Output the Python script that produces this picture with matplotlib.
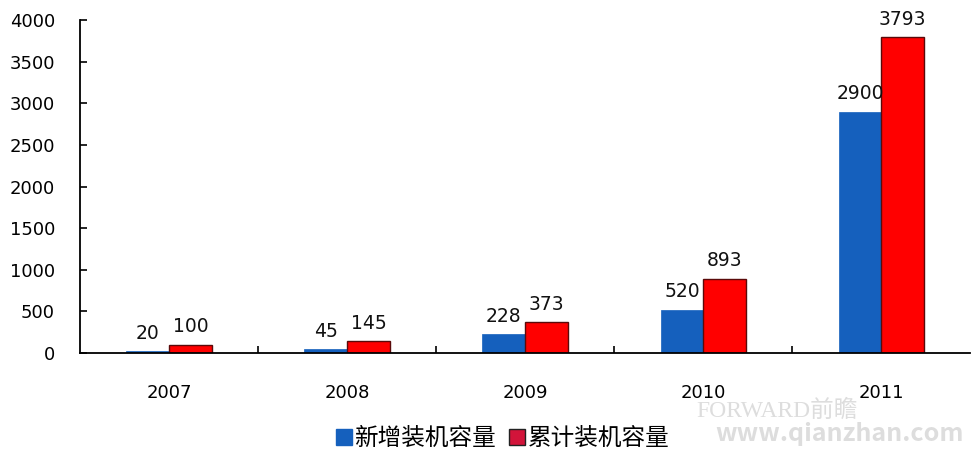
import matplotlib.pyplot as plt
import numpy as np
from matplotlib.lines import Line2D

plt.rcParams['font.family'] = ['Noto Sans CJK SC', 'DejaVu Sans']

years = ['2007', '2008', '2009', '2010', '2011']
new_cap = [20, 45, 228, 520, 2900]          # 新增装机容量
total_cap = [100, 145, 373, 893, 3793]      # 累计装机容量
yticks = [0, 500, 1000, 1500, 2000, 2500, 3000, 3500, 4000]

fig = plt.figure(figsize=(9.71, 4.59), dpi=100)
ax = fig.add_axes([0.0824, 0.231, 0.917, 0.725])

x = np.arange(len(years))
w = 0.24
b1 = ax.bar(x - w / 2, new_cap, w, color='#1560bd', edgecolor='#1560bd', linewidth=0.5,
            label='新增装机容量')
b2 = ax.bar(x + w / 2, total_cap, w, color='#ff0000', edgecolor='#5a0a0a', linewidth=1.0,
            label='累计装机容量')

for bars in (b1, b2):
    for r in bars:
        ax.annotate(f'{int(r.get_height())}', (r.get_x() + r.get_width() / 2, r.get_height()),
                    xytext=(0, 6), textcoords='offset points', ha='center', va='bottom',
                    fontsize=13.5, family='DejaVu Sans', color='#111111')

ax.set_xlim(-0.5, len(years) - 0.5)
ax.set_ylim(0, 4000)
ax.set_yticks(yticks)
ax.set_xticks(x)
ax.set_xticklabels(years)
ax.set_xticks(np.arange(0.5, len(years) - 0.5, 1.0), minor=True)
for s in ['top', 'right']:
    ax.spines[s].set_visible(False)
ax.spines['left'].set_linewidth(1.3)
ax.spines['bottom'].set_linewidth(1.3)
ax.tick_params(axis='y', direction='in', length=5, width=1.2, pad=18, labelsize=13)
ax.tick_params(axis='x', which='major', length=0, pad=22, labelsize=13)
ax.tick_params(axis='x', which='minor', direction='in', length=5, width=1.2)
for lab in ax.get_xticklabels() + ax.get_yticklabels():
    lab.set_family('DejaVu Sans')

# 水印
fig.text(0.80, 0.105, 'FORWARD前瞻', fontsize=17, color='#dddddd', ha='center', va='center',
         family=['Liberation Serif', 'Noto Sans CJK SC'], zorder=0)
fig.text(0.865, 0.055, 'www.qianzhan.com', fontsize=18, color='#dddddd', ha='center', va='center',
         weight='bold', zorder=0)

h1 = Line2D([], [], marker='s', ls='none', color='#1560bd', markersize=12)
h2 = Line2D([], [], marker='s', ls='none', color='#d2143a', markeredgecolor='#222222', markersize=12)
fig.legend([h1, h2], ['新增装机容量', '累计装机容量'], loc='center', bbox_to_anchor=(0.517, 0.045),
           ncol=2, frameon=False, fontsize=17, handletextpad=0.05, columnspacing=0.5,
           handlelength=0.8)

plt.savefig('out.png')
